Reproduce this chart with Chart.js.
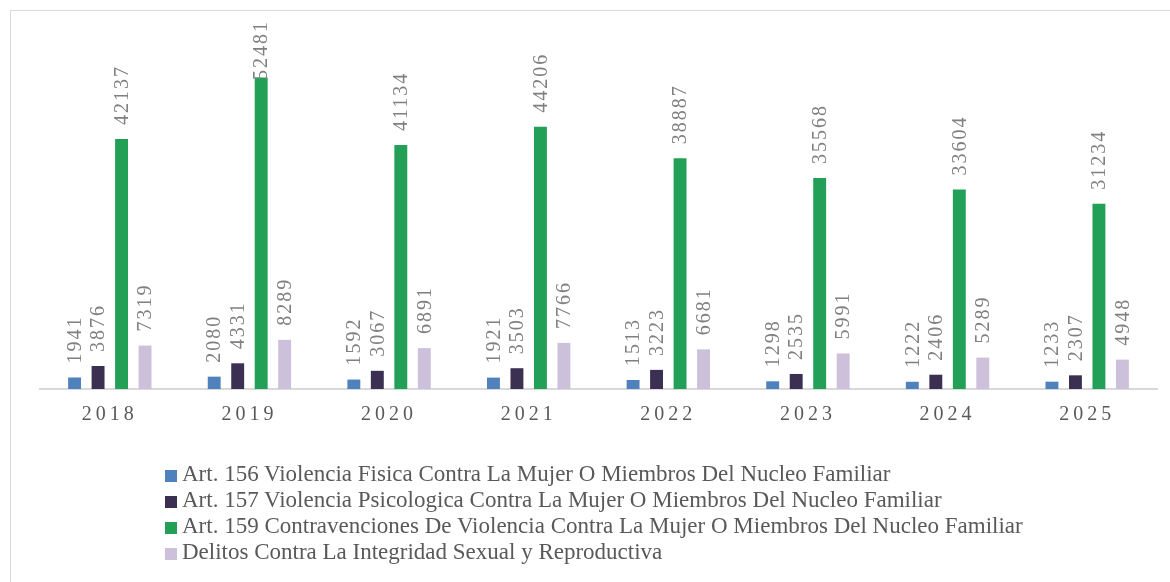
<!DOCTYPE html>
<html>
<head>
<meta charset="utf-8">
<script src="https://cdn.jsdelivr.net/npm/chart.js@4/dist/chart.umd.min.js"></script>
<style>
  html, body { margin: 0; padding: 0; background: #fff; overflow: hidden; }
  #wrap { position: relative; width: 1170px; height: 582px; }
  #frame { position: absolute; left: 10px; top: 10px; width: 1200px; height: 620px; border: 1px solid #d9d9d9; box-sizing: border-box; }
  #chart { position: absolute; left: 0; top: 0; }
  #legend { position: absolute; left: 165px; top: 461px; font-family: "Liberation Serif", serif; font-size: 23px; color: #595959; }
  #legend .row { height: 26px; line-height: 26px; white-space: nowrap; }
  #legend .box { display: inline-block; width: 12px; height: 12px; margin-right: 5px; vertical-align: -1px; }
</style>
</head>
<body>
<div id="wrap">
  <div id="frame"></div>
  <canvas id="chart" width="1170" height="582"></canvas>
  <div id="legend"></div>
</div>
<script>
const years = ["2018", "2019", "2020", "2021", "2022", "2023", "2024", "2025"];
const seriesNames = [
  "Art. 156 Violencia Fisica Contra La Mujer O Miembros Del Nucleo Familiar",
  "Art. 157 Violencia Psicologica Contra La Mujer O Miembros Del Nucleo Familiar",
  "Art. 159 Contravenciones De Violencia Contra La Mujer O Miembros Del Nucleo Familiar",
  "Delitos Contra La Integridad Sexual y Reproductiva"
];
const art156 = [1941, 2080, 1592, 1921, 1513, 1298, 1222, 1233];
const art157 = [3876, 4331, 3067, 3503, 3223, 2535, 2406, 2307];
const art159 = [42137, 52481, 41134, 44206, 38887, 35568, 33604, 31234];
const delitos = [7319, 8289, 6891, 7766, 6681, 5991, 5289, 4948];
const colors = ["#4f81bd", "#3b3051", "#23a057", "#ccc0da"];

const seriesValues = [art156, art157, art159, delitos];

// rotated value labels above each bar
const barLabels = {
  id: "barLabels",
  afterDatasetsDraw(chart) {
    const ctx = chart.ctx;
    ctx.save();
    ctx.letterSpacing = "2px";
    ctx.font = "20px 'Liberation Serif', serif";
    ctx.fillStyle = "#808080";
    ctx.textAlign = "left";
    ctx.textBaseline = "middle";
    chart.data.datasets.forEach((ds, i) => {
      chart.getDatasetMeta(i).data.forEach((bar, j) => {
        const txt = String(ds.data[j]);
        const w = ctx.measureText(txt).width;
        let start = bar.y - 14;
        if (start - w < 20) start = 20 + w;
        ctx.save();
        ctx.translate(bar.x + 1, start);
        ctx.rotate(-Math.PI / 2);
        ctx.fillText(txt, 0, 0);
        ctx.restore();
      });
    });
    ctx.restore();
  }
};

// spaced-out year labels
const tickSpacing = {
  id: "tickSpacing",
  beforeDraw(chart) { chart.ctx.letterSpacing = "4px"; },
  beforeDatasetsDraw(chart) { chart.ctx.letterSpacing = "0px"; }
};

new Chart(document.getElementById("chart"), {
  type: "bar",
  data: {
    labels: years,
    datasets: seriesValues.map((vals, i) => ({
      label: seriesNames[i],
      data: vals,
      backgroundColor: colors[i],
      borderWidth: 0,
      barPercentage: 0.55,
      categoryPercentage: 0.673
    }))
  },
  options: {
    responsive: false,
    animation: false,
    layout: { padding: { left: 40, right: 13, top: 33, bottom: 143 } },
    plugins: {
      legend: { display: false },
      tooltip: { enabled: false }
    },
    scales: {
      x: {
        grid: { display: false, drawTicks: false },
        border: { display: true, color: "#d9d9d9", width: 2 },
        ticks: {
          color: "#595959",
          font: { family: "'Liberation Serif', serif", size: 20 },
          padding: 14
        },
        afterFit(scale) { scale.height = 50; }
      },
      y: {
        display: false,
        min: 0,
        max: 60000
      }
    }
  },
  plugins: [barLabels, tickSpacing]
});

// legend as a plain list
const legend = document.getElementById("legend");
seriesNames.forEach((name, i) => {
  const row = document.createElement("div");
  row.className = "row";
  const box = document.createElement("span");
  box.className = "box";
  box.style.background = colors[i];
  row.appendChild(box);
  row.appendChild(document.createTextNode(name));
  legend.appendChild(row);
});
</script>
</body>
</html>
